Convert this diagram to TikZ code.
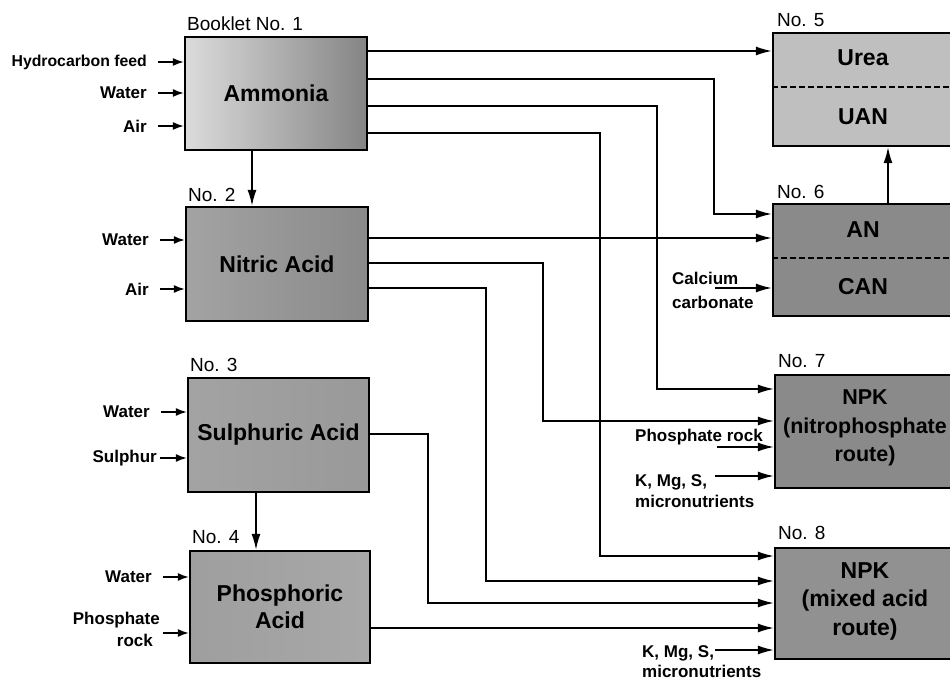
\documentclass[tikz,border=0pt]{standalone}
\usepackage{fontspec}
\setmainfont{Liberation Sans}
\usetikzlibrary{arrows.meta}
\begin{document}
\begin{tikzpicture}[x=1pt,y=-1pt,
  box/.style={draw=black, line width=2.2pt, inner sep=0pt, align=center,
    font=\bfseries\fontsize{23}{27.5}\selectfont},
  boxtext/.style={inner sep=0pt, align=center, font=\bfseries\fontsize{23}{28.5}\selectfont},
  lbl/.style={inner sep=0pt, font=\bfseries\fontsize{17}{20}\selectfont},
  num/.style={inner sep=0pt, anchor=west, font=\fontsize{19}{22}\selectfont},
  arr/.style={line width=1.7pt, -{Latex[length=16pt,width=9pt]}},
  inarr/.style={line width=1.7pt, -{Latex[length=11pt,width=8pt]}},
  dsh/.style={line width=1.6pt, dash pattern=on 6pt off 3pt}
]
\useasboundingbox (0,0) rectangle (950,684);
\clip (0,0) rectangle (950,684);
\fill[white] (0,0) rectangle (950,684);

% ---- left boxes
\node[box, minimum width=182pt, minimum height=113pt, left color=black!14, right color=black!48] (amm) at (276,93.5) {Ammonia};
\node[box, minimum width=182pt, minimum height=114pt, left color=black!36, right color=black!46] (nit) at (277,264) {Nitric Acid};
\node[box, minimum width=181pt, minimum height=114pt, left color=black!36, right color=black!40] (sul) at (278.5,435) {Sulphuric Acid};
\node[box, minimum width=180pt, minimum height=112pt, left color=black!38, right color=black!34] (pho) at (280,607) {Phosphoric\\Acid};

% ---- right boxes
\node[box, minimum width=189pt, minimum height=113pt, fill=black!25] (n5) at (867.5,89.5) {};
\node[box, minimum width=189pt, minimum height=112pt, fill=black!46] (n6) at (867.5,260) {};
\node[box, minimum width=187pt, minimum height=113pt, fill=black!46] (n7) at (868.5,431.5) {};
\node[box, minimum width=187pt, minimum height=111pt, fill=black!43] (n8) at (868.5,603.5) {};

\draw[dsh] (n5.west |- 0,87) -- (n5.east |- 0,87);
\draw[dsh] (n6.west |- 0,258) -- (n6.east |- 0,258);

\node[boxtext] (urea) at (863,58) {Urea};
\node[boxtext] (uan) at (863,117) {UAN};
\node[boxtext] (an) at (863,230) {AN};
\node[boxtext] (can) at (863,287) {CAN};
\node[boxtext, font=\bfseries\fontsize{21.5}{28.5}\selectfont] (n7t) at (865,428) {NPK\\(nitrophosphate\\route)};
\node[boxtext] (n8t) at (865,601) {NPK\\(mixed acid\\route)};

% ---- booklet numbers
\node[num] (b1) at (187,24) {Booklet No. 1};
\node[num] (b2) at (188,195) {No. 2};
\node[num] (b3) at (190,365) {No. 3};
\node[num] (b4) at (192,537) {No. 4};
\node[num] (b5) at (777,20) {No. 5};
\node[num] (b6) at (777,192) {No. 6};
\node[num] (b7) at (778,361) {No. 7};
\node[num] (b8) at (778,533) {No. 8};

% ---- left input labels and arrows
\node[lbl, anchor=east, font=\bfseries\fontsize{15.8}{19}\selectfont] (la1) at (147,62) {Hydrocarbon feed};
\node[lbl, anchor=east] (la2) at (147,93) {Water};
\node[lbl, anchor=east] (la3) at (147,126) {Air};
\coordinate (ia1) at (158,62);
\coordinate (ia2) at (158,93);
\coordinate (ia3) at (158,126);
\draw[inarr] (ia1) -- (ia1 -| amm.west);
\draw[inarr] (ia2) -- (ia2 -| amm.west);
\draw[inarr] (ia3) -- (ia3 -| amm.west);

\node[lbl, anchor=east] (ln1) at (149,240) {Water};
\node[lbl, anchor=east] (ln2) at (149,289) {Air};
\coordinate (in1) at (160,240);
\coordinate (in2) at (160,289);
\draw[inarr] (in1) -- (in1 -| nit.west);
\draw[inarr] (in2) -- (in2 -| nit.west);

\node[lbl, anchor=east] (ls1) at (150,412) {Water};
\node[lbl, anchor=east] (ls2) at (157,458) {Sulphur};
\coordinate (is1) at (161,412);
\coordinate (is2) at (160,458);
\draw[inarr] (is1) -- (is1 -| sul.west);
\draw[inarr] (is2) -- (is2 -| sul.west);

\node[lbl, anchor=east] (lp1) at (152,577) {Water};
\node[lbl, anchor=east, align=right, font=\bfseries\fontsize{17}{22}\selectfont] (lp2) at (160,629) {Phosphate\\rock\hspace*{7pt}};
\coordinate (ip1) at (163,577);
\coordinate (ip2) at (163,633);
\draw[inarr] (ip1) -- (ip1 -| pho.west);
\draw[inarr] (ip2) -- (ip2 -| pho.west);

% ---- right input labels and arrows
\node[lbl, anchor=west, align=left, font=\bfseries\fontsize{17}{24}\selectfont] (lcc) at (672,290) {Calcium\\carbonate};
\coordinate (icc) at (715,288);
\draw[arr] (icc) -- (icc -| n6.west);

\node[lbl, anchor=west] (lpr) at (635,437) {Phosphate rock};
\coordinate (ipr) at (717,447);
\draw[arr] (ipr) -- (ipr -| n7.west);

\node[lbl, anchor=west, align=left, font=\bfseries\fontsize{17}{20.5}\selectfont] (lk7) at (635,491) {K, Mg, S,\\micronutrients};
\coordinate (ik7) at (715,476);
\draw[arr] (ik7) -- (ik7 -| n7.west);

\node[lbl, anchor=west, align=left, font=\bfseries\fontsize{17}{20}\selectfont] (lk8) at (642,662) {K, Mg, S,\\micronutrients};
\coordinate (ik8) at (715,650);
\draw[arr] (ik8) -- (ik8 -| n8.west);

% ---- vertical arrows between boxes
\draw[arr] ([xshift=-24pt]amm.south) -- ([xshift=-24pt]amm.south |- nit.north);
\draw[arr] ([xshift=-22.5pt]sul.south) -- ([xshift=-22.5pt]sul.south |- pho.north);
\coordinate (up) at (888,0);
\draw[arr] (up |- n6.north) -- (up |- n5.south);

% ---- Ammonia outputs
\draw[arr] (amm.east |- 0,51) -- (n5.west |- 0,51);
\draw[arr] (amm.east |- 0,79) -- (714,79) -- (714,214) -- (n6.west |- 0,214);
\draw[arr] (amm.east |- 0,106) -- (657,106) -- (657,389) -- (n7.west |- 0,389);
\draw[arr] (amm.east |- 0,133) -- (600,133) -- (600,556) -- (n8.west |- 0,556);

% ---- Nitric acid outputs
\draw[arr] (nit.east |- 0,238) -- (n6.west |- 0,238);
\draw[arr] (nit.east |- 0,263) -- (543,263) -- (543,421) -- (n7.west |- 0,421);
\draw[arr] (nit.east |- 0,288) -- (486,288) -- (486,581) -- (n8.west |- 0,581);

% ---- Sulphuric and phosphoric outputs
\draw[arr] (sul.east |- 0,434) -- (428,434) -- (428,603) -- (n8.west |- 0,603);
\draw[arr] (pho.east |- 0,628) -- (n8.west |- 0,628);
\end{tikzpicture}
\end{document}
